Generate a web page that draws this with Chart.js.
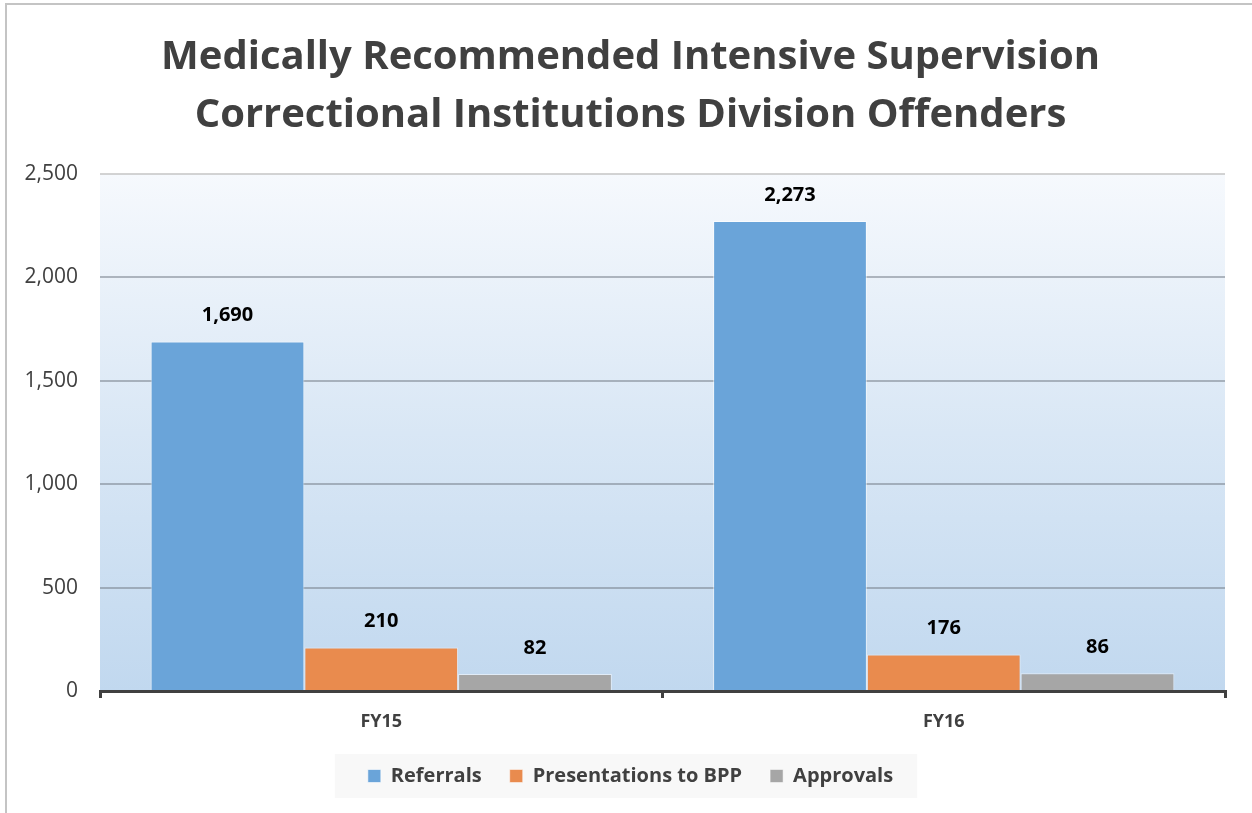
<!DOCTYPE html>
<html>
<head>
<meta charset="utf-8">
<script src="https://cdn.jsdelivr.net/npm/chart.js@4/dist/chart.umd.min.js"></script>
<style>
  html, body { margin: 0; padding: 0; background: #fff; }
  #wrap { width: 1252px; height: 813px; position: relative; }
</style>
</head>
<body>
<div id="wrap"><canvas id="chart" width="1252" height="813"></canvas></div>
<script>
const categories = ["FY15", "FY16"];
const referrals = [1690, 2273];
const presentations = [210, 176];
const approvals = [82, 86];
const yTicks = [0, 500, 1000, 1500, 2000, 2500];

const FONT = "'Open Sans', 'DejaVu Sans', sans-serif";
const TEXT = "#404040";

// title and legend sit a bit right of the canvas centre in the original
const recentre = {
  id: "recentre",
  afterLayout(chart) {
    const dx = 15;
    [chart.titleBlock, chart.legend].forEach(b => { b.left += dx; b.right += dx; });
    (chart.legend.legendHitBoxes || []).forEach(b => { b.left += dx; });
  }
};

// gradient behind the plot + outer frame
const backdrop = {
  id: "backdrop",
  beforeDraw(chart) {
    const { ctx, chartArea: a } = chart;
    ctx.save();
    const g = ctx.createLinearGradient(0, a.top, 0, a.bottom);
    g.addColorStop(0, "#f6f9fd");
    g.addColorStop(0.5, "#d9e7f5");
    g.addColorStop(1, "#c1d8ef");
    ctx.fillStyle = g;
    ctx.fillRect(a.left, a.top, a.right - a.left, a.bottom - a.top);

    // legend background
    const boxes = chart.legend.legendHitBoxes;
    if (boxes && boxes.length) {
      const l = Math.min(...boxes.map(b => b.left)) - 33;
      const r = Math.max(...boxes.map(b => b.left + b.width)) + 24;
      const t = boxes[0].top - 12;
      const h = boxes[0].height + 24;
      ctx.fillStyle = "#f8f8f8";
      ctx.fillRect(l, t, r - l, h);
    }

    ctx.strokeStyle = "#c4c4c4";
    ctx.lineWidth = 2;
    ctx.beginPath();
    ctx.moveTo(6, 813);
    ctx.lineTo(6, 4);
    ctx.lineTo(1252, 4);
    ctx.stroke();
    ctx.restore();
  }
};

// value labels above the bars
const valueLabels = {
  id: "valueLabels",
  afterDatasetsDraw(chart) {
    const { ctx } = chart;
    ctx.save();
    ctx.font = "bold 20px " + FONT;
    ctx.fillStyle = "#000";
    ctx.textAlign = "center";
    ctx.textBaseline = "middle";
    chart.data.datasets.forEach((ds, i) => {
      chart.getDatasetMeta(i).data.forEach((bar, j) => {
        ctx.fillText(ds.data[j].toLocaleString("en-US"), bar.x, bar.y - 26);
      });
    });
    ctx.restore();
  }
};

new Chart(document.getElementById("chart"), {
  type: "bar",
  data: {
    labels: categories,
    datasets: [
      { label: "Referrals", data: referrals, backgroundColor: "#6aa4d9", borderColor: "rgba(255,255,255,0.6)" },
      { label: "Presentations to BPP", data: presentations, backgroundColor: "#e98b4e", borderColor: "rgba(255,255,255,0.5)" },
      { label: "Approvals", data: approvals, backgroundColor: "#a6a6a6", borderColor: "rgba(255,255,255,0.5)" },
    ].map(d => ({ ...d, borderWidth: 1, categoryPercentage: 0.82, barPercentage: 1 })),
  },
  options: {
    responsive: false,
    animation: false,
    layout: { padding: { left: 6, right: 27, top: 0, bottom: 17 } },
    plugins: {
      title: {
        display: true,
        text: ["Medically Recommended Intensive Supervision", "Correctional Institutions Division Offenders"],
        color: TEXT,
        font: { family: FONT, size: 40, weight: "bold", lineHeight: 1.45 },
        padding: { top: 29, bottom: 29 },
      },
      legend: {
        position: "bottom",
        labels: {
          color: TEXT,
          font: { family: FONT, size: 20, weight: "bold" },
          boxWidth: 13,
          boxHeight: 13,
          padding: 28,
        },
      },
      tooltip: { enabled: false },
    },
    scales: {
      x: {
        grid: { offset: true, drawOnChartArea: false, drawTicks: true, tickLength: 7, color: TEXT, lineWidth: 3 },
        border: { color: TEXT, width: 3 },
        ticks: { color: TEXT, font: { family: FONT, size: 18, weight: "bold" }, padding: 13 },
        afterFit: s => { s.height = 47; },
      },
      y: {
        min: 0,
        max: 2500,
        afterBuildTicks: s => { s.ticks = yTicks.map(v => ({ value: v })); },
        grid: {
          color: c => (c.tick && c.tick.value === 2500 ? "rgba(200,200,200,0.8)" : "rgba(120,130,140,0.55)"),
          lineWidth: 2,
          drawTicks: false,
        },
        border: { display: false },
        ticks: {
          color: TEXT,
          font: { family: FONT, size: 21 },
          padding: 22,
          callback: v => v.toLocaleString("en-US"),
        },
        afterFit: s => { s.width = 94; },
      },
    },
  },
  plugins: [recentre, backdrop, valueLabels],
});
</script>
</body>
</html>
